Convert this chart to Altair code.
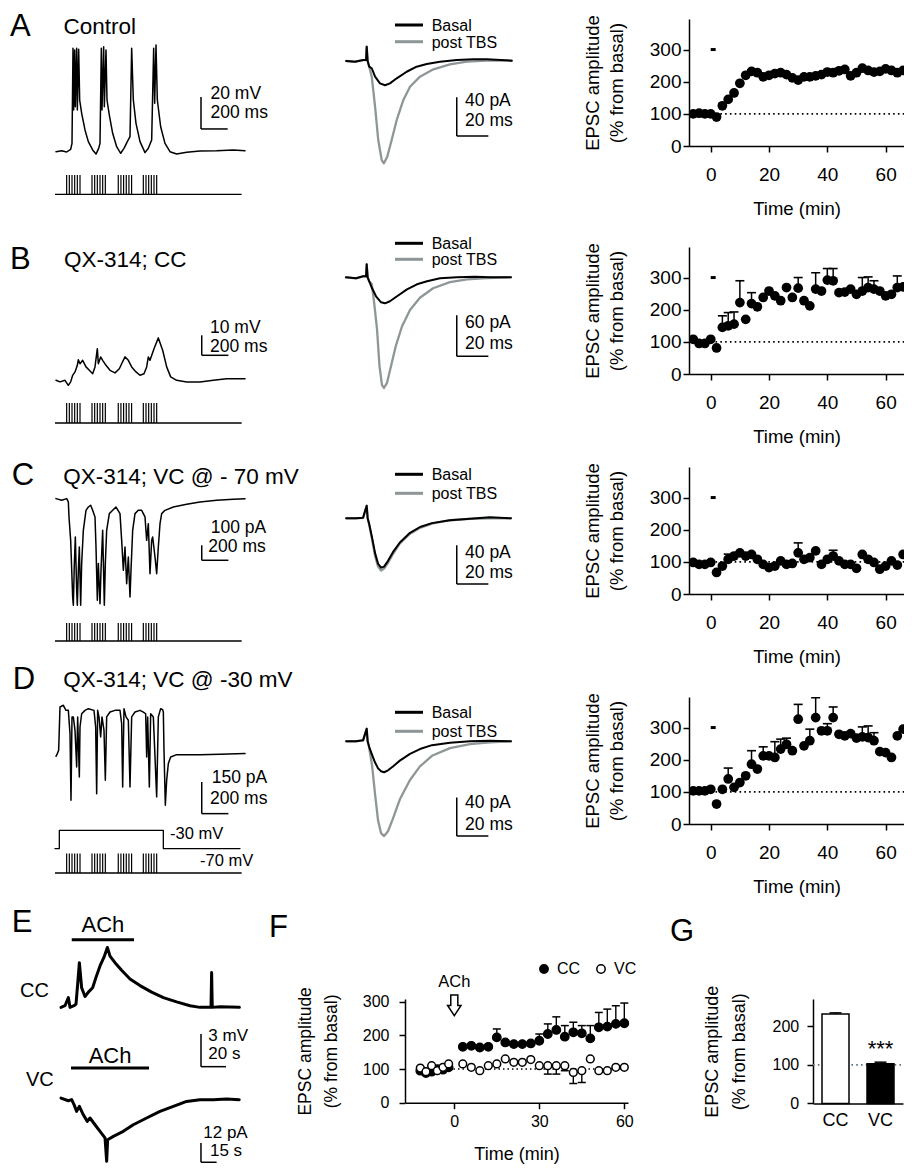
import altair as alt
import pandas as pd

FONT = "Liberation Sans"
INK = "#000000"
GREY = "#8e9698"
DOT_BLUE = "#5d7086"

# ---------------- Panels A-D (right): EPSC amplitude (% of basal) vs time (min) ----------------
tc_time = [-6, -4, -2, 0, 2, 4, 6, 8, 10, 12, 14, 16, 18, 20, 22, 24, 26, 28, 30, 32,
           34, 36, 38, 40, 42, 44, 46, 48, 50, 52, 54, 56, 58, 60, 62, 64, 66, 68]
a_amp = [100, 102, 100, 100, 90, 125, 145, 165, 195, 220, 232, 228, 215, 220, 225, 228, 222, 212, 205, 215,
         215, 218, 222, 230, 228, 234, 238, 218, 228, 242, 235, 230, 232, 240, 235, 228, 235, 230]
a_sem = [0, 0, 0, 0, 0, 0, 0, 0, 0, 0, 0, 0, 0, 0, 0, 0, 0, 0, 0, 0,
         0, 0, 0, 0, 0, 0, 0, 0, 0, 0, 0, 0, 0, 0, 0, 0, 0, 0]
b_amp = [108, 95, 95, 108, 81, 145, 150, 155, 222, 170, 219, 209, 238, 258, 243, 228, 269, 238, 267, 228,
         212, 264, 258, 292, 290, 253, 255, 264, 248, 258, 269, 264, 258, 243, 248, 269, 271, 245]
b_sem = [0, 0, 0, 0, 0, 36, 41, 38, 68, 0, 34, 0, 0, 0, 0, 0, 0, 0, 33, 0,
         0, 51, 0, 36, 38, 0, 0, 0, 0, 42, 33, 26, 0, 0, 0, 36, 0, 0]
c_amp = [98, 92, 92, 98, 67, 87, 108, 118, 128, 118, 123, 108, 92, 82, 87, 103, 92, 95, 128, 108,
         113, 134, 92, 108, 118, 103, 92, 92, 80, 123, 108, 98, 77, 87, 103, 90, 123, 118]
c_sem = [0, 0, 0, 0, 0, 0, 16, 0, 0, 0, 0, 0, 0, 0, 0, 0, 0, 0, 31, 0,
         0, 0, 0, 0, 18, 0, 0, 0, 0, 0, 0, 0, 0, 0, 0, 0, 0, 0]
d_amp = [103, 103, 103, 108, 62, 108, 140, 114, 129, 150, 186, 171, 212, 212, 207, 233, 248, 228, 326, 243,
         259, 331, 290, 290, 331, 279, 274, 281, 267, 271, 269, 259, 225, 222, 207, 274, 295, 236]
d_sem = [0, 0, 0, 0, 0, 0, 34, 0, 0, 0, 42, 0, 28, 0, 49, 31, 19, 0, 46, 0,
         36, 62, 0, 22, 33, 0, 0, 0, 0, 31, 36, 25, 0, 0, 0, 0, 0, 31]
tbs_on, tbs_off, tbs_level = 0, 1.7, 300

# ---------------- Panels A-D (left): membrane voltage / current traces ----------------
a_t = [0, 42.5, 80, 110, 120, 127.5, 132.5, 140, 145, 155, 160, 170, 177.5, 192.5, 217.5, 242.5, 275, 300, 320, 330,
       340, 345, 357.5, 362.5, 375, 382.5, 400, 425, 455, 485, 510, 535, 555, 567.5, 580, 600, 630, 667.5, 692.5, 717.5,
       732.5, 740, 750, 760, 785, 817.5, 855, 905, 980, 1080, 1205, 1330, 1417.5]
a_mv = [0.2, 0.8, 0, 1.7, 5.4, 64.8, 26.3, 63.7, 28.3, 64.8, 26.3, 64.2, 32.5, 24.2, 13.8, 6.5, 1.3, -1.3, 2.3, 5.4,
        64.8, 26.3, 65.8, 28.3, 63.7, 32.5, 23.1, 11.7, 3.3, -0.8, 2.3, 6.5, 9.6, 64.8, 32.5, 17.9, 6.5, -0.4, 2.3, 7.5,
        64.8, 30.4, 66.9, 32.5, 15.8, 5.4, 0.2, -1.3, -0.2, 0.6, 0.8, 1.3, 0.8]
b_t = [0, 30, 67.5, 92.5, 110, 125, 142.5, 160, 167.5, 180, 200, 225, 250, 275, 292.5, 310, 317.5, 335, 350, 375,
       405, 442.5, 475, 492.5, 517.5, 542.5, 567.5, 600, 630, 660, 680, 692.5, 705, 735, 767.5, 800, 830, 860, 905, 980,
       1080, 1180, 1280, 1417.5]
b_mv = [0, -0.8, 0, -2.5, -0.8, 2.5, 4.2, 7.5, 10.3, 8.3, 10, 6.7, 5, 3.3, 6.7, 15.8, 8.3, 11.7, 10, 7.5,
        5, 3.7, 5.8, 8.3, 11.7, 10, 6.7, 4.2, 2.5, 3.3, 6.7, 11.7, 10, 15.8, 21.2, 15, 6.7, 1.7, 0, -0.8,
        -0.8, 0, 0.8, 0.8]
c_t = [0, 42.5, 80, 92.5, 97.5, 110, 125, 130, 137.5, 145, 155, 160, 167.5, 175, 185, 192.5, 205, 225, 242.5, 260,
       275, 292.5, 300, 310, 317.5, 330, 337.5, 350, 362.5, 370, 380, 400, 425, 450, 480, 492.5, 505, 517.5, 530, 542.5,
       555, 562.5, 575, 592.5, 617.5, 642.5, 667.5, 680, 692.5, 705, 717.5, 725, 742.5, 755, 767.5, 780, 792.5, 817.5,
       880, 980, 1080, 1205, 1330, 1417.5]
c_pa = [0, -11, 0, -22, -122, -278, -656, -711, -433, -256, -611, -711, -478, -322, -711, -433, -211, -78, -56, -44,
        -78, -122, -322, -678, -433, -700, -478, -211, -711, -433, -211, -100, -78, -56, -100, -278, -478, -322, -567, -389,
        -656, -478, -211, -100, -78, -78, -122, -278, -167, -500, -278, -256, -389, -500, -322, -167, -100, -78,
        -56, -38, -22, -11, -4, 0]
d_t = [0, 10, 20, 30, 55, 75, 92.5, 105, 112.5, 120, 130, 142.5, 155, 162.5, 175, 180, 192.5, 217.5, 242.5, 285,
       297.5, 305, 312.5, 322.5, 335, 345, 360, 370, 380, 405, 442.5, 480, 492.5, 500, 510, 525, 542.5, 555, 567.5, 592.5,
       630, 655, 672.5, 680, 687.5, 700, 710, 730, 755, 767.5, 785, 800, 805, 810, 820, 830, 842.5, 860, 905, 1080,
       1230, 1417.5]
d_pa = [-4.7, 7.9, 23.7, 229, 237, 213, 213, 103, -213, 182, 182, 118, -55, 182, -103, 134, 197, 213, 221, 213,
        134, -182, 213, 182, 87, 182, 118, -118, 182, 205, 213, 213, 150, -150, 221, 182, 166, -150, 182, 205,
        213, 205, 197, -8, 182, -150, 197, 182, -197, 182, 221, 216, 205, 24, -237, -118, -39, -8, 3, 3,
        5, 8]
d_cmd_t = [-7.5, 25, 25, 805, 805, 1380]
d_cmd_mv = [-70, -70, -30, -30, -70, -70]
stim_pulse_ms = [80, 100, 120, 140, 160, 180, 270, 290, 310, 330, 350, 370,
                 467, 487, 507, 527, 547, 567, 655, 675, 695, 715, 735, 755]
stim_start, stim_end = -7.5, 1392.5

# ---------------- Panels A-D (middle): EPSC traces (ms, pA) ----------------
ea_basal_t = [-13, -7.4, -2.2, -0.4, 0, 0.6, 1.6, 3.2, 5.3, 8.4, 11.6, 14.7, 19, 25.3, 31.6, 38, 46.4, 57, 67.5, 76, 91.8]
ea_basal_pa = [0, -0.7, 1, 1, 14.8, 0, -5.9, -7.5, -16.2, -23.1, -25.1, -23.1, -17.9, -11.1, -5.9, -3.1, -0.7, 1, 1.8, 1.8, 0.3]
ea_post_t = [-13, -7.4, -2.2, -0.4, 0, 0.6, 1.6, 3.2, 5.3, 7.3, 9.5, 10.9, 13, 15.8, 19, 23.2, 27.4, 33.7, 42.2, 52.7, 63.3, 76, 91.8]
ea_post_pa = [0, -0.7, 1, 1, 14.8, 0, -5.9, -16.2, -47.3, -81.7, -102.4, -105.8, -99, -81.7, -61, -40.3, -26.6, -16.2, -8.6, -3.4, -0.7, 0.3, 0.3]
eb_basal_t = [-13.1, -6.8, -2.3, -0.4, 0, 0.6, 1.6, 3.4, 5.9, 9.1, 11.6, 14.7, 19.2, 25.5, 31.8, 38.2, 46.4, 57.2, 68.5, 78, 91.3]
eb_basal_pa = [0, -1.5, 1.5, 1.5, 19, 0, -5.9, -16.1, -27.8, -36.6, -38.1, -35.1, -27.8, -17.6, -10.2, -5.9, -1.5, 0, 0.7, 0, 0]
eb_post_t = [-13.1, -6.8, -2.3, -0.4, 0, 0.6, 1.6, 3.2, 4.6, 6.5, 8.1, 9.7, 10.9, 12.8, 15.4, 18.5, 22.3, 27.4, 33.7, 42, 52.7, 63.5, 76, 91.3]
eb_post_pa = [0, -1.5, 1.5, 1.5, 19, 0, -5.9, -10, -35, -75, -130, -158, -162, -155, -130, -100, -72, -48, -30, -16, -7, -3, -1, 0]
ecd_t = [-13, -6.8, -2.3, 0, 0.6, 1.6, 3.4, 5.3, 7.2, 9.1, 11, 13.5, 16.6, 21, 27.4, 33.7, 41.3, 52.7, 65.4, 78, 91.3]
ec_basal_pa = [0, 0, 0.5, 13, 0, -6, -20, -36, -47, -51, -50, -44, -35, -25, -15, -9, -5, -2, -0.5, 1, 0]
ec_post_pa = [0, 0, 0.5, 13, 0, -7, -22, -39, -50, -54, -52, -46, -37, -26, -16, -10, -5.5, -2, -0.5, 0, 0]
ed_basal_pa = [0, 0, 1, 13, 0, -6, -14, -22, -28, -31, -32, -30, -26, -20, -13, -8, -4, -1.5, 0, 0.5, 0]
ed_post_pa = [0, 0, 1, 13, 0, -7, -25, -55, -82, -95, -98, -93, -80, -60, -40, -26, -15, -7, -3, -1, 0]
epsc_series = ["Basal", "post  TBS"]
epsc_sb_pa = [40, 60, 40, 40]
epsc_sb_ms = 20

# ---------------- Panel E: ACh responses ----------------
e_cc_s = [0, 3.2, 5.9, 7.2, 10.4, 12, 13.1, 14.7, 16.5, 19.2, 21.9, 25.3, 28, 31.2, 34.4, 37.1, 39.2, 43.2, 48.5, 55.2,
          63.2, 72.5, 81.9, 92.5, 103.2, 111.2, 120, 120.5, 121, 127.2, 142.7]
e_cc_mv = [0, 0.15, 0.9, 0, 0.15, 0.3, 1.8, 4.1, 1.8, 1, 1.4, 1.8, 2.75, 3.8, 4.6, 5.5, 4.7, 4.1, 3.4, 2.6,
           2, 1.4, 0.9, 0.5, 0.15, 0, 0, 3.2, 0, 0.06, 0]
e_vc_s = [0, 7, 10.2, 12.5, 15, 17.6, 21.4, 25.2, 27.8, 32.6, 37.4, 42.2, 43.8, 44.7, 50.2, 59.7, 69.3, 82.1, 94.9, 107.7,
          120.4, 133.2, 146, 158.8, 170.9]
e_vc_pa = [0, -1.7, -1, -4.1, -8.3, -5.2, -10.4, -14.5, -12.4, -16.6, -20.7, -24.8, -39.3, -25.9, -23.8, -20.7, -16.6, -12.4, -8.3, -5.2,
           -2.1, -1, -1, -0.6, -1]
e_ach_cc = [8.6, 58.4]
e_ach_vc = [9.6, 84.4]

# ---------------- Panel F: EPSC amplitude after ACh ----------------
f_time = [-12, -10, -8, -6, -4, -2, 3, 6, 9, 12, 15, 18, 21, 24, 27, 30, 33, 36, 39, 42, 45, 48, 51, 54, 57, 60]
f_cc = [95, 88, 92, 100, 98, 105, 166, 169, 164, 166, 194, 179, 174, 174, 176, 184, 204, 216, 196, 209, 206, 191, 224, 226, 234, 236]
f_cc_sem = [0, 0, 0, 0, 0, 0, 0, 0, 0, 0, 25, 0, 0, 0, 0, 20, 30, 39, 33, 30, 23, 38, 44, 52, 54, 60]
f_vc = [103, 92, 110, 95, 105, 115, 115, 105, 95, 110, 115, 130, 120, 120, 128, 110, 110, 110, 110, 90, 95, 130, 95, 95, 105, 105]
f_vc_sem = [0, 0, 0, 0, 0, 0, 0, 0, 0, 0, 0, 0, 0, 0, 0, 0, 25, 25, 15, 33, 35, 0, 0, 0, 0, 0]
f_ach_time = 0

# ---------------- Panel G: summary ----------------
g_groups = ["CC", "VC"]
g_mean = [232, 103]
g_sem = [3, 4]
g_sig = ["", "***"]

ONE = pd.DataFrame({"k": [0]})
COL_L = [8, 300, 689]          # page x of the three grid columns
COL_W = [292, 389, 215]
SB_FS = 17.5


def lin(d0, d1, p0, p1, origin):
    return alt.Scale(domain=[d0, d1], range=[p0 - origin, p1 - origin], nice=False, zero=False)


def label(text, px, py, ox, oy, size, align="left", font=FONT):
    return alt.Chart(ONE).mark_text(text=text, align=align, baseline="alphabetic", fontSize=size,
                                    font=font, color=INK).encode(x=alt.value(px - ox), y=alt.value(py - oy))


def trace(ts, vs, xsc, ysc, color=INK, width=1.4):
    df = pd.DataFrame({"t": ts, "v": vs, "i": list(range(len(ts)))})
    return alt.Chart(df).mark_line(color=color, strokeWidth=width, strokeJoin="round", strokeCap="round").encode(
        x=alt.X("t:Q", scale=xsc, axis=None), y=alt.Y("v:Q", scale=ysc, axis=None), order="i:Q")


def scalebar(t0, top, dt, dv, xsc, ysc, lab1, lab2, dx1, dy1, dx2, dy2, fs):
    bottom = top - dv
    X = alt.X("t:Q", scale=xsc, axis=None)
    Y = alt.Y("v:Q", scale=ysc, axis=None)
    vert = alt.Chart(pd.DataFrame({"t": [t0], "v": [top], "v2": [bottom]})).mark_rule(
        color=INK, strokeWidth=1.5).encode(x=X, y=Y, y2="v2:Q")
    hor = alt.Chart(pd.DataFrame({"t": [t0], "t2": [t0 + dt], "v": [bottom]})).mark_rule(
        color=INK, strokeWidth=1.5).encode(x=X, x2="t2:Q", y=Y)
    anchor = pd.DataFrame({"t": [t0], "v": [top]})
    t1 = alt.Chart(anchor).mark_text(text=lab1, align="left", baseline="alphabetic", dx=dx1, dy=dy1,
                                     fontSize=fs, font=FONT, color=INK).encode(x=X, y=Y)
    t2 = alt.Chart(anchor).mark_text(text=lab2, align="left", baseline="alphabetic", dx=dx2, dy=dy2,
                                     fontSize=fs, font=FONT, color=INK).encode(x=X, y=Y)
    return [vert, hor, t1, t2]


def stim(xsc, base_py, top_py, top):
    ysc = lin(0, 1, base_py, top_py, top)
    X = alt.X("t:Q", scale=xsc, axis=None)
    n = len(stim_pulse_ms)
    pulses = alt.Chart(pd.DataFrame({"t": stim_pulse_ms, "lo": [0] * n, "hi": [1] * n})).mark_rule(
        color=INK, strokeWidth=1.2).encode(x=X, y=alt.Y("lo:Q", scale=ysc, axis=None), y2="hi:Q")
    base = alt.Chart(pd.DataFrame({"t": [stim_start], "t2": [stim_end], "lo": [0]})).mark_rule(
        color=INK, strokeWidth=1.3).encode(x=X, x2="t2:Q", y=alt.Y("lo:Q", scale=ysc, axis=None))
    return [pulses, base]


TRACE_X = lin(0, 1500, 56, 256, COL_L[0])


def trace_panel(layers, height):
    return alt.layer(*layers).properties(width=COL_W[0], height=height).resolve_scale(
        x="independent", y="independent")


# ----- left column panels -----
def panel_a():
    top = 19
    ysc = lin(0, 60, 152, 56, top)
    L = [trace(a_t, a_mv, TRACE_X, ysc, width=1.5)]
    L += stim(TRACE_X, 194.3, 175, top)
    L += scalebar(1087.5, 34.4, 200, 20, TRACE_X, ysc, "20 mV", "200 ms", 9.5, 2.3, 9.5, 20.6, SB_FS)
    L += [label("A", 10, 36, 8, top, 31), label("Control", 63.5, 34.3, 8, top, 22.5)]
    return trace_panel(L, 227.7)


def panel_b():
    top = 246.7
    ysc = lin(0, 20, 380, 340, top)
    L = [trace(b_t, b_mv, TRACE_X, ysc, width=1.5)]
    L += stim(TRACE_X, 422.7, 402.7, top)
    L += scalebar(1093, 22.5, 200, 10, TRACE_X, ysc, "10 mV", "200 ms", 8.3, -2.5, 8.3, 17, SB_FS)
    L += [label("B", 10, 268.3, 8, top, 31), label("QX-314; CC", 64, 266.7, 8, top, 22.5)]
    return trace_panel(L, 220)


def panel_c():
    top = 466.7
    ysc = lin(0, -700, 498.33, 603.33, top)
    L = [trace(c_t, c_pa, TRACE_X, ysc, width=1.5)]
    L += stim(TRACE_X, 640.7, 622.7, top)
    L += scalebar(1093, -311, 200, 100, TRACE_X, ysc, "100 pA", "200 ms", 9, -12.5, 6.6, 6.5, SB_FS)
    L += [label("C", 11.7, 485, 8, top, 31), label("QX-314; VC @ - 70 mV", 63.3, 483.3, 8, top, 22.5)]
    return trace_panel(L, 230)


def panel_d():
    top = 696.7
    ysc = lin(0, 250, 755, 702.25, top)
    csc = lin(-70, -30, 848.3, 830, top)
    X = alt.X("t:Q", scale=TRACE_X, axis=None)
    L = [trace(d_t, d_pa, TRACE_X, ysc, width=1.5), trace(d_cmd_t, d_cmd_mv, TRACE_X, csc, width=1.3)]
    L += stim(TRACE_X, 872.7, 853.3, top)
    L += scalebar(1093, -126.5, 200, 150, TRACE_X, ysc, "150 pA", "200 ms", 10, 1, 8.3, 21.6, SB_FS)
    lv = alt.Chart(pd.DataFrame({"t": [d_cmd_t[3]], "v": [d_cmd_mv[3]]})).mark_text(
        text="-30 mV", align="left", baseline="alphabetic", dx=6.7, dy=8.3, fontSize=16.5, font=FONT, color=INK
    ).encode(x=X, y=alt.Y("v:Q", scale=csc, axis=None))
    lv2 = alt.Chart(pd.DataFrame({"t": [1080], "v": [d_cmd_mv[0]]})).mark_text(
        text="-70 mV", align="left", baseline="alphabetic", dy=17.7, fontSize=16.5, font=FONT, color=INK
    ).encode(x=X, y=alt.Y("v:Q", scale=csc, axis=None))
    L += [lv, lv2]
    L += [label("D", 12.7, 688.3, 8, top, 31), label("QX-314; VC @ -30 mV", 63.3, 686.7, 8, top, 22.5)]
    return trace_panel(L, 301.6)


# ----- middle column -----
def epsc_panel(top, y0, ppp, bt, bi, pt, pi, sb_top, sb_pa, sb_dy, leg_y):
    left = COL_L[1]
    xsc = lin(0, 100, 366.7, 524.7, left)
    ysc = lin(0, -100, y0, y0 + 100 * ppp, top)
    L = [trace(pt, pi, xsc, ysc, GREY, 2.3), trace(bt, bi, xsc, ysc, INK, 2.0)]
    L += scalebar(57, sb_top, epsc_sb_ms, sb_pa, xsc, ysc, f"{sb_pa} pA", f"{epsc_sb_ms} ms",
                  8.3, sb_dy[0], 8.3, sb_dy[1], SB_FS)
    for name, col, ly in zip(epsc_series, [INK, GREY], leg_y):
        L.append(alt.Chart(ONE).mark_rule(color=col, strokeWidth=3).encode(
            x=alt.value(395 - left), x2=alt.value(423 - left), y=alt.value(ly - top)))
        L.append(label(name, 431.7, ly + 5.8, left, top, 16))
    return alt.layer(*L).properties(width=COL_W[1], height=127).resolve_scale(x="independent", y="independent")


# ----- right column -----
def ax(values, title, lfs, tfs, lpad, tpad, ext=None, lh=None, offset=None):
    kw = dict(values=values, title=title, grid=False, tickSize=6, tickWidth=1.5, domainWidth=1.5,
              domainColor=INK, tickColor=INK, labelColor=INK, titleColor=INK, labelFont=FONT, titleFont=FONT,
              labelFontSize=lfs, titleFontSize=tfs, titleFontWeight="normal", labelPadding=lpad,
              titlePadding=tpad, labelFlush=False, labelOverlap=False)
    if ext is not None:
        kw["minExtent"] = ext
        kw["maxExtent"] = ext
    if lh is not None:
        kw["titleLineHeight"] = lh
    if offset is not None:
        kw["offset"] = offset
    return alt.Axis(**kw)


AMP_TITLE = ["EPSC amplitude", "(% from basal)"]
TC_AX_X = ax([0, 20, 40, 60], "Time (min)", 19, 18.5, 13.2, 15)
TC_AX_Y = ax([0, 100, 200, 300], AMP_TITLE, 19, 18.5, 2, 22.8, ext=40, lh=24)
TC_XS = alt.Scale(domain=[-7.45, 66.3], nice=False, zero=False)
TC_YS = alt.Scale(domain=[0, 395], nice=False, zero=False)


def tc_panel(amp, sem):
    df = pd.DataFrame({"t": tc_time, "amp": amp, "sem": sem})
    df["top"] = df["amp"] + df["sem"]
    X = alt.X("t:Q", scale=TC_XS, axis=TC_AX_X)
    Y = alt.Y("amp:Q", scale=TC_YS, axis=TC_AX_Y)
    ref = alt.Chart(pd.DataFrame({"t": [0], "t2": [66.3], "amp": [100]})).mark_rule(
        color=INK, strokeWidth=1.6, strokeDash=[1.6, 3.2], clip=True).encode(x=X, x2="t2:Q", y=Y)
    tbs = alt.Chart(pd.DataFrame({"t": [tbs_on], "t2": [tbs_off], "amp": [tbs_level]})).mark_rule(
        color=INK, strokeWidth=3).encode(x=X, x2="t2:Q", y=Y)
    L = [ref, tbs]
    e = df[df["sem"] > 0]
    if len(e):
        L.append(alt.Chart(e).mark_rule(color=INK, strokeWidth=1.5, clip=True).encode(x=X, y=Y, y2="top:Q"))
        L.append(alt.Chart(e).mark_tick(color=INK, orient="horizontal", size=9, thickness=1.6, opacity=1,
                                        clip=True).encode(x=X, y=alt.Y("top:Q", scale=TC_YS, axis=TC_AX_Y)))
    L.append(alt.Chart(df).mark_circle(color=INK, size=95, opacity=1, clip=True).encode(x=X, y=Y))
    return alt.layer(*L).properties(width=COL_W[2], height=127)


# ----- bottom row -----
ETOP = 998.3
VC_SHIFT = -6


def panel_e():
    cx = lin(0, 100, 61, 186, COL_L[0])
    cy = lin(0, 5, 1006.67, 952.17, ETOP)
    vx = lin(0, 100, 61, 165.3, COL_L[0])
    vy = lin(0, -30, 1103.33 + VC_SHIFT, 1151.63 + VC_SHIFT, ETOP)
    L = [trace(e_cc_s, e_cc_mv, cx, cy, width=3.0), trace(e_vc_s, e_vc_pa, vx, vy, width=3.0)]
    L += scalebar(112, -2.44, 20, 3, cx, cy, "3 mV", "20 s", 7.3, 6.7, 7.3, 25, 17)
    L += scalebar(134.2, -27.9, 15, 12, vx, vy, "12 pA", "15 s", 2.3, -5, 9, 13.4, 17)
    for (t0, t1), xs, ys, lvl, dy in [(e_ach_cc, cx, cy, 6.2, -7.6), (e_ach_vc, vx, vy, 18.65, -5)]:
        X = alt.X("t:Q", scale=xs, axis=None)
        Y = alt.Y("v:Q", scale=ys, axis=None)
        L.append(alt.Chart(pd.DataFrame({"t": [t0], "t2": [t1], "v": [lvl]})).mark_rule(
            color=INK, strokeWidth=3).encode(x=X, x2="t2:Q", y=Y))
        L.append(alt.Chart(pd.DataFrame({"t": [(t0 + t1) / 2], "v": [lvl]})).mark_text(
            text="ACh", baseline="alphabetic", dy=dy, fontSize=22, font=FONT, color=INK).encode(x=X, y=Y))
    L += [label("E", 11.7, 931.7, COL_L[0], ETOP, 31), label("F", 269, 936.7, COL_L[0], ETOP, 31),
          label("CC", 20, 996.7, COL_L[0], ETOP, 20), label("VC", 26, 1091.7 + VC_SHIFT, COL_L[0], ETOP, 20)]
    return alt.layer(*L).properties(width=COL_W[0], height=104).resolve_scale(x="independent", y="independent")


F_LEFT, F_RIGHT = 405, 628
F_AX_X = ax([0, 30, 60], "Time (min)", 16, 18, 4.4, 16)
F_AX_Y = ax([0, 100, 200, 300], AMP_TITLE, 16, 17.5, 10, 17.3, ext=47, lh=26, offset=-(F_LEFT - COL_L[1]))
ARROW = "M-0.34,-1L0.34,-1L0.34,0L0.65,0L0,1L-0.65,0L-0.34,0Z"


def panel_f():
    recs = []
    for t, a, s in zip(f_time, f_cc, f_cc_sem):
        recs.append({"t": t, "amp": a, "end": a + s, "sem": s, "grp": "CC"})
    for t, a, s in zip(f_time, f_vc, f_vc_sem):
        recs.append({"t": t, "amp": a, "end": a - s, "sem": s, "grp": "VC"})
    df = pd.DataFrame(recs)
    XS = lin(-17.4, 61.3, F_LEFT, F_RIGHT, COL_L[1])
    YS = alt.Scale(domain=[0, 308], nice=False, zero=False)
    X = alt.X("t:Q", scale=XS, axis=F_AX_X)
    Y = alt.Y("amp:Q", scale=YS, axis=F_AX_Y)
    fill = alt.Fill("grp:N", scale=alt.Scale(domain=g_groups, range=["black", "white"]),
                    legend=alt.Legend(orient="none", legendX=536 - COL_L[1], legendY=-38, direction="horizontal",
                                      title=None, symbolType="circle", symbolSize=70, symbolStrokeColor=INK,
                                      symbolStrokeWidth=1.5, labelFontSize=16, labelFont=FONT, labelColor=INK,
                                      columnPadding=12, labelOffset=5))
    ref = alt.Chart(pd.DataFrame({"t": [-13], "t2": [61.3], "amp": [100]})).mark_rule(
        color=INK, strokeWidth=1.4, strokeDash=[1.5, 3]).encode(x=X, x2="t2:Q", y=Y)
    e = df[df["sem"] > 0]
    err = alt.Chart(e).mark_rule(color=INK, strokeWidth=1.4).encode(x=X, y=Y, y2="end:Q")
    cap = alt.Chart(e).mark_tick(color=INK, orient="horizontal", size=8, thickness=1.5, opacity=1).encode(
        x=X, y=alt.Y("end:Q", scale=YS, axis=F_AX_Y))
    cc = alt.Chart(df[df["grp"] == "CC"]).mark_circle(size=72, opacity=1, stroke=INK, strokeWidth=1.3).encode(
        x=X, y=Y, fill=fill)
    vc = alt.Chart(df[df["grp"] == "VC"]).mark_circle(size=60, opacity=1, stroke=INK, strokeWidth=1.5).encode(
        x=X, y=Y, fill=fill)
    ach = pd.DataFrame({"t": [f_ach_time]})
    ach_txt = alt.Chart(ach).mark_text(text="ACh", baseline="alphabetic", fontSize=16.5, font=FONT,
                                       color=INK).encode(x=X, y=alt.value(-11.6))
    arrow = alt.Chart(ach).mark_point(shape=ARROW, size=428, filled=False, color=INK, strokeWidth=1.5,
                                      opacity=1).encode(x=X, y=alt.value(6.4))
    g_letter = label("G", 670, 940, COL_L[1], ETOP, 31)
    return alt.layer(ref, err, cap, cc, vc, ach_txt, arrow, g_letter).properties(width=COL_W[1], height=103.7)


G_LEFT, G_RIGHT = 813, 903
G_AX_Y = ax([0, 100, 200], AMP_TITLE, 16, 18, 8.3, 16.7, ext=48.3, lh=26.5, offset=-(G_LEFT - COL_L[2]))
G_AX_X = alt.Axis(title=None, labelAngle=0, ticks=False, domainColor=INK, domainWidth=1.5, labelColor=INK,
                  labelFont=FONT, labelFontSize=18, labelPadding=8.1)


def panel_g():
    df = pd.DataFrame({"grp": g_groups, "mean": g_mean, "sem": g_sem, "sig": g_sig})
    df["top"] = df["mean"] + df["sem"]
    X = alt.X("grp:N", scale=alt.Scale(domain=g_groups, range=[G_LEFT - COL_L[2], G_RIGHT - COL_L[2]],
                                       paddingInner=0.4, paddingOuter=0.2), axis=G_AX_X)
    YS = alt.Scale(domain=[0, 271], nice=False, zero=False)
    Y = alt.Y("mean:Q", scale=YS, axis=G_AX_Y)
    ref = alt.Chart(pd.DataFrame({"mean": [100], "grp": ["CC"]})).mark_rule(
        color=DOT_BLUE, strokeWidth=1.6, strokeDash=[1.6, 3.2]).encode(
        y=Y, x=alt.value(G_LEFT - COL_L[2]), x2=alt.value(G_RIGHT - COL_L[2]))
    bar_cc = alt.Chart(df).transform_filter(alt.datum.grp == "CC").mark_bar(
        fill="white", stroke=INK, strokeWidth=1.5).encode(x=X, y=Y)
    bar_vc = alt.Chart(df).transform_filter(alt.datum.grp == "VC").mark_bar(
        fill="black", stroke=INK, strokeWidth=1.5).encode(x=X, y=Y)
    err = alt.Chart(df).mark_rule(color=INK, strokeWidth=1.5).encode(x=X, y=Y, y2="top:Q")
    cap = alt.Chart(df).mark_tick(color=INK, orient="horizontal", size=12, thickness=1.5, opacity=1).encode(
        x=X, y=alt.Y("top:Q", scale=YS, axis=G_AX_Y))
    stars = alt.Chart(df).mark_text(baseline="alphabetic", dy=-6.5, fontSize=22, font=FONT, color=INK).encode(
        x=X, y=alt.Y("top:Q", scale=YS, axis=G_AX_Y), text="sig:N")
    return alt.layer(ref, bar_cc, bar_vc, err, cap, stars).properties(width=COL_W[2], height=104.4)


cells = [
    panel_a(),
    epsc_panel(19, 61, 0.967, ea_basal_t, ea_basal_pa, ea_post_t, ea_post_pa,
               -37.5, epsc_sb_pa[0], (8.7, 28.7), (25, 41.7)),
    tc_panel(a_amp, a_sem),
    panel_b(),
    epsc_panel(246.7, 277, 0.683, eb_basal_t, eb_basal_pa, eb_post_t, eb_post_pa,
               -55.6, epsc_sb_pa[1], (13, 34), (243, 259)),
    tc_panel(b_amp, b_sem),
    panel_c(),
    epsc_panel(466.7, 518, 0.967, ecd_t, ec_basal_pa, ecd_t, ec_post_pa,
               -27.9, epsc_sb_pa[2], (13, 33), (474, 493)),
    tc_panel(c_amp, c_sem),
    panel_d(),
    epsc_panel(696.7, 741, 0.967, ecd_t, ed_basal_pa, ecd_t, ed_post_pa,
               -58, epsc_sb_pa[3], (11, 33), (712, 731)),
    tc_panel(d_amp, d_sem),
    panel_e(),
    panel_f(),
    panel_g(),
]

chart = alt.concat(*cells, columns=3, spacing=0, bounds="flush", align="each",
                   padding={"top": 3, "left": 0, "right": 0, "bottom": 0},
                   background="white").resolve_scale(fill="independent").resolve_legend(fill="independent"
                   ).configure(font=FONT).configure_view(stroke=None)

chart.save("out.html", embed_options={"renderer": "svg", "actions": False})
